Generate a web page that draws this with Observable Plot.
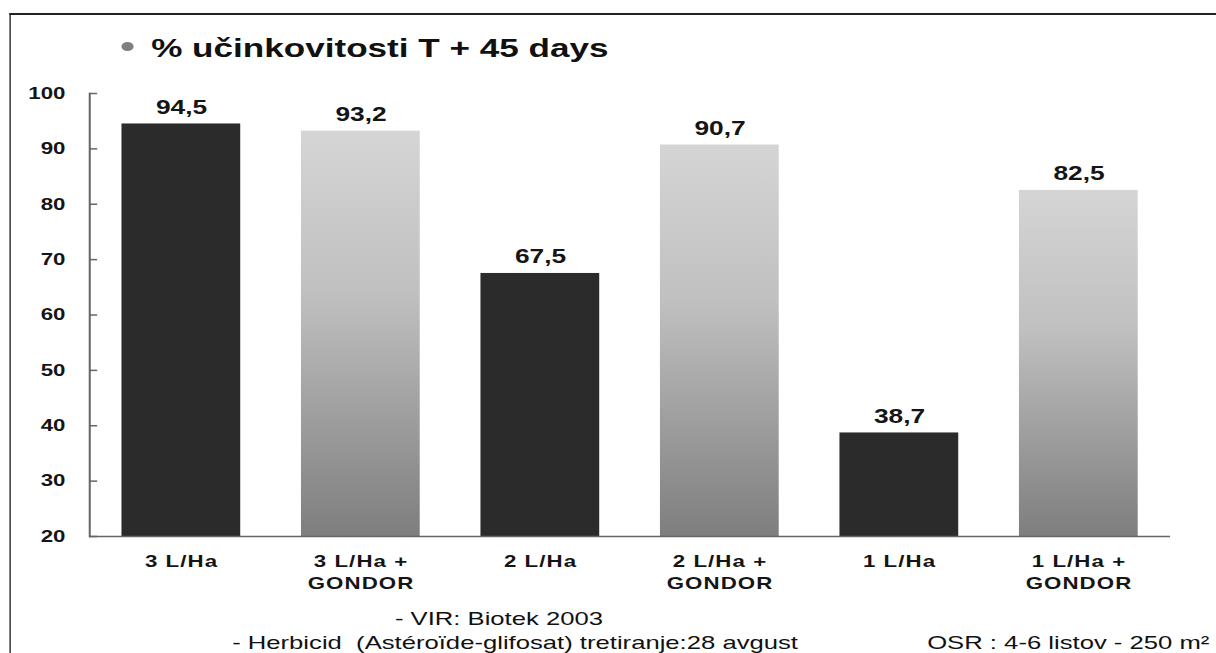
<!DOCTYPE html>
<html>
<head>
<meta charset="utf-8">
<script src="https://cdn.jsdelivr.net/npm/d3@7"></script>
<script src="https://cdn.jsdelivr.net/npm/@observablehq/plot@0.6"></script>
<style>
  html, body { margin: 0; padding: 0; background: #fff; overflow: hidden; width: 1216px; height: 653px; }
  #page { position: relative; width: 901px; height: 653px; transform: scaleX(1.3496); transform-origin: 0 0;
          font-family: "Liberation Sans", Arial, sans-serif; color: #111; }
  #frame { position: absolute; left: 7px; top: 13px; width: 2000px; height: 2000px;
           border-top: 2.5px solid #222; border-left: 1.6px solid #222; }
  .txt { position: absolute; white-space: pre; line-height: 1; }
  #bullet { position: absolute; left: 90px; top: 42px; width: 9.4px; height: 9.4px; border-radius: 50%; background: #7f7f7f; }
  #title { left: 112px; top: 35px; font-size: 26px; font-weight: bold; color: #111; }
  .note { font-size: 19px; color: #111; }
  #chart { position: absolute; left: 0; top: 70px; }
  #chart g[aria-label="x-axis tick label"] text { letter-spacing: 0.8px; }
</style>
</head>
<body>
<div id="page">
  <div id="frame"></div>
  <div id="bullet"></div>
  <div id="title" class="txt">% učinkovitosti T + 45 days</div>
  <div id="chart"></div>
  <div class="txt note" style="left:292.6px; top:609px;">- VIR: Biotek 2003</div>
  <div class="txt note" style="left:172px; top:633px;">- Herbicid  (Astéroïde-glifosat) tretiranje:28 avgust</div>
  <div class="txt note" style="left:687px; top:633px;">OSR : 4-6 listov - 250 m²</div>
</div>
<script>
const categories = ["3 L/Ha", "3 L/Ha +\nGONDOR", "2 L/Ha", "2 L/Ha +\nGONDOR", "1 L/Ha", "1 L/Ha +\nGONDOR"];
const values = [94.5, 93.2, 67.5, 90.7, 38.7, 82.5];
const withGondor = [false, true, false, true, false, true];
const yTicks = [20, 30, 40, 50, 60, 70, 80, 90, 100];

const data = categories.map((c, i) => ({cat: c, value: values[i], gondor: withGondor[i]}));

const W = 901, H = 530, ML = 66, MR = 34, MT = 23, MB = 64;
const axisColor = "#666";

const chart = Plot.plot({
  width: W, height: H,
  marginTop: MT, marginBottom: MB, marginLeft: ML, marginRight: MR,
  x: {domain: categories, paddingInner: 0.335, paddingOuter: 0.1675, label: null},
  y: {domain: [20, 100], label: null},
  color: {type: "identity"},
  style: {fontFamily: "'Liberation Sans', Arial, sans-serif", color: "#151515", background: "transparent", overflow: "visible"},
  marks: [
    Plot.barY(data, {x: "cat", y1: 20, y2: "value", fill: d => d.gondor ? "url(#gondorGrad)" : "#2b2b2b"}),
    Plot.ruleY([20], {stroke: axisColor, strokeWidth: 1.5}),
    Plot.frame({anchor: "left", stroke: axisColor, strokeWidth: 1.5}),
    Plot.ruleY(yTicks, {y: d => d, stroke: axisColor, strokeWidth: 1.5, insetRight: (W - ML - MR) - 6}),
    Plot.axisY({ticks: yTicks, tickSize: 0, tickPadding: 18, fontSize: 16.5, fontWeight: "bold", label: null}),
    Plot.axisX({tickSize: 0, tickPadding: 15, fontSize: 16.5, fontWeight: "bold", lineHeight: 1.33, label: null}),
    Plot.text(data, {x: "cat", y: "value", text: d => d.value.toFixed(1).replace(".", ","),
      lineAnchor: "bottom", dy: -10, fontSize: 19.5, fontWeight: "bold", fill: "#151515"})
  ]
});

const svg = d3.select(chart);
const grad = svg.insert("defs", ":first-child").append("linearGradient")
  .attr("id", "gondorGrad").attr("x1", 0).attr("y1", 0).attr("x2", 0).attr("y2", 1);
grad.append("stop").attr("offset", "0%").attr("stop-color", "#d5d5d5");
grad.append("stop").attr("offset", "40%").attr("stop-color", "#c0c0c0");
grad.append("stop").attr("offset", "100%").attr("stop-color", "#7e7e7e");

document.getElementById("chart").appendChild(chart);
</script>
</body>
</html>
